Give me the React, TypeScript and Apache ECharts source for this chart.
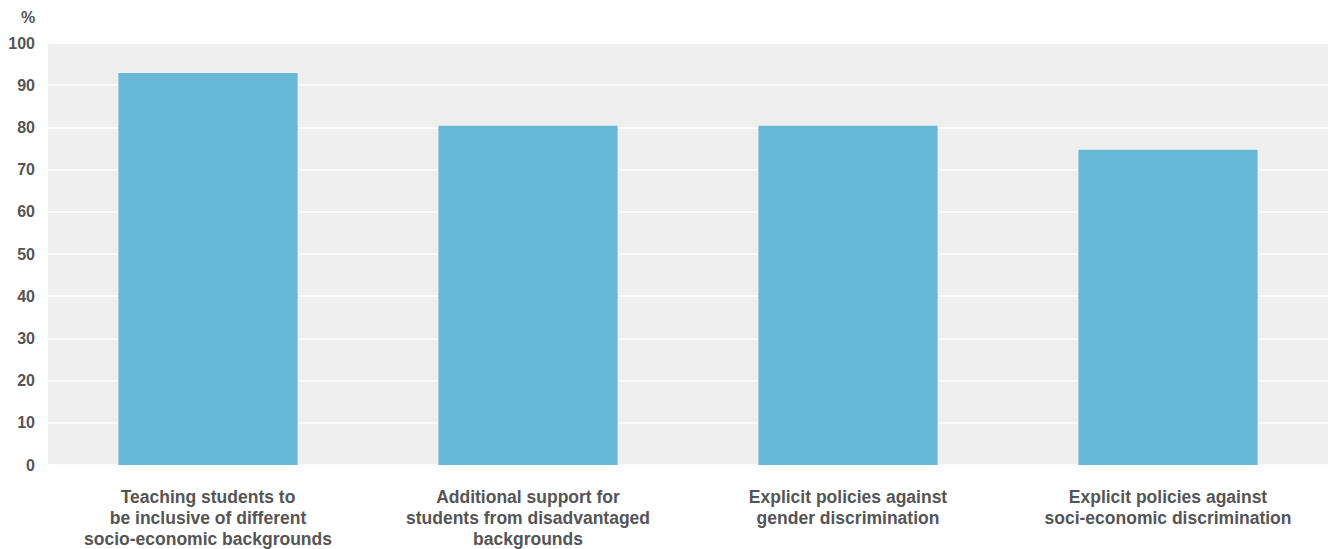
import React, { useEffect, useRef } from "react";
import * as echarts from "echarts";

const categories = [
  "Teaching students to\nbe inclusive of different\nsocio-economic backgrounds",
  "Additional support for\nstudents from disadvantaged\nbackgrounds",
  "Explicit policies against\ngender discrimination",
  "Explicit policies against\nsoci-economic discrimination",
];
const values = [92.9, 80.4, 80.4, 74.7];
const yTicks = { min: 0, max: 100, interval: 10 };

export default function App() {
  const ref = useRef<HTMLDivElement>(null);
  useEffect(() => {
    const chart = echarts.init(ref.current!, null, { renderer: "svg" });
    const font = "'Liberation Sans', Arial, Helvetica, sans-serif";
    chart.setOption({
      animation: false,
      grid: {
        left: 48,
        right: 5,
        top: 43,
        bottom: 84,
        show: true,
        backgroundColor: "#efefef",
        borderWidth: 0,
      },
      graphic: [
        {
          type: "text",
          left: 21,
          top: 9,
          style: { text: "%", fontSize: 16, fontWeight: "bold", fill: "#555", fontFamily: font },
        },
      ],
      xAxis: {
        type: "category",
        data: categories,
        axisLine: { show: false },
        axisTick: { show: false },
        axisLabel: {
          color: "#555",
          fontSize: 17.5,
          fontWeight: "bold",
          fontFamily: font,
          lineHeight: 21,
          margin: 21,
          interval: 0,
        },
      },
      yAxis: {
        type: "value",
        min: yTicks.min,
        max: yTicks.max,
        interval: yTicks.interval,
        axisLine: { show: false },
        axisTick: { show: false },
        splitLine: { lineStyle: { color: "#ffffff", width: 1.5 } },
        axisLabel: {
          color: "#555",
          fontSize: 16,
          fontWeight: "bold",
          fontFamily: font,
          margin: 13,
        },
      },
      series: [
        {
          type: "bar",
          data: values,
          barWidth: "56%",
          itemStyle: { color: "#67b8d7" },
        },
      ],
    });
    return () => chart.dispose();
  }, []);
  return (
    <div
      ref={ref}
      style={{ position: "fixed", left: 0, top: 0, width: 1333, height: 549, background: "#fff" }}
    />
  );
}
